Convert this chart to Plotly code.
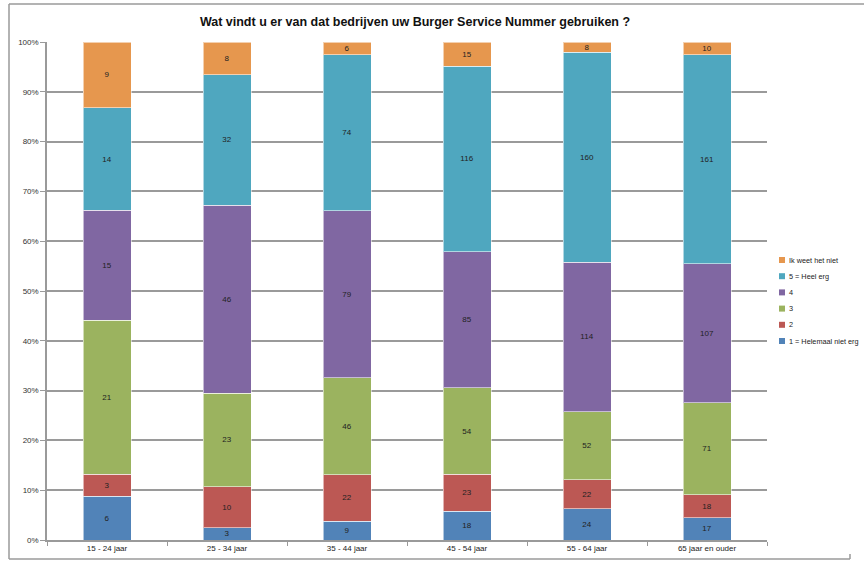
import plotly.graph_objects as go

categories = ["15 - 24 jaar", "25 - 34 jaar", "35 - 44 jaar", "45 - 54 jaar", "55 - 64 jaar", "65 jaar en ouder"]
series_names = ["1 = Helemaal niet erg", "2", "3", "4", "5 = Heel erg", "Ik weet het niet"]
s1 = [6, 3, 9, 18, 24, 17]
s2 = [3, 10, 22, 23, 22, 18]
s3 = [21, 23, 46, 54, 52, 71]
s4 = [15, 46, 79, 85, 114, 107]
s5 = [14, 32, 74, 116, 160, 161]
s6 = [9, 8, 6, 15, 8, 10]
colors = ["#5183B8", "#BC5854", "#9BB35F", "#8067A2", "#4FA7BF", "#E6974E"]
y_ticks = [0, 10, 20, 30, 40, 50, 60, 70, 80, 90, 100]
y_labels = [f"{t}%" for t in y_ticks]
title = "Wat vindt u er van dat bedrijven uw Burger Service Nummer gebruiken ?"

FONT = "Liberation Sans, sans-serif"

fig = go.Figure()
for name, vals, col in zip(series_names, [s1, s2, s3, s4, s5, s6], colors):
    fig.add_trace(go.Bar(
        x=categories, y=vals, name=name, showlegend=False,
        marker=dict(color=col, line=dict(color="rgba(255,255,255,0.55)", width=1)),
        text=[str(v) for v in vals], textposition="inside", insidetextanchor="middle",
        textangle=0, textfont=dict(size=8, color="#222222", family=FONT),
    ))

# plot-area geometry: l=47, r=767, t=42, b=540
W, H = 864, 563
L, R, T, B = 47, 767, 42, 540
pw, ph = R - L, B - T

def px(x):
    return (x - L) / pw

def py(y):
    return (B - y) / ph

border = dict(color="#9a9a9a", width=1.5)
shapes = [
    dict(type="line", xref="paper", yref="paper", x0=px(9), x1=px(9), y0=py(559), y1=py(4), line=border),
    dict(type="line", xref="paper", yref="paper", x0=px(9), x1=px(864), y0=py(4), y1=py(4), line=border),
    dict(type="line", xref="paper", yref="paper", x0=px(9), x1=px(850), y0=py(559), y1=py(559), line=border),
    dict(type="line", xref="paper", yref="paper", x0=px(850), x1=px(850), y0=py(559), y1=py(554), line=border),
]
annotations = []
# manual legend (top entry = last series)
for i, (name, col) in enumerate(reversed(list(zip(series_names, colors)))):
    yc = 260 + i * 16.2
    shapes.append(dict(type="rect", xref="paper", yref="paper",
                       x0=px(779), x1=px(785), y0=py(yc + 3), y1=py(yc - 3),
                       fillcolor=col, line=dict(width=0)))
    annotations.append(dict(text=name, xref="paper", yref="paper", x=px(787), y=py(yc),
                            xanchor="left", yanchor="middle", showarrow=False,
                            font=dict(size=7.3, color="#222222", family=FONT)))

fig.update_layout(
    width=W, height=H,
    barmode="stack", barnorm="percent", bargap=0.6,
    margin=dict(l=L, r=W - R, t=T, b=H - B, pad=0, autoexpand=False),
    paper_bgcolor="white", plot_bgcolor="white",
    title=dict(text="<b>" + title + "</b>", x=px(415), xref="paper", xanchor="center",
               y=1 - 22 / H, yanchor="middle",
               font=dict(family=FONT, size=12.5, color="#111111")),
    font=dict(family=FONT, size=8, color="#333333"),
    uniformtext=dict(minsize=8, mode="show"),
    showlegend=False,
    xaxis=dict(type="category", showgrid=False, showline=True, linecolor="#9a9a9a", linewidth=1.5,
               ticks="outside", tickson="boundaries", ticklen=4, tickcolor="#9a9a9a",
               tickfont=dict(size=8, color="#222222", family=FONT), range=[-0.5, 5.5]),
    yaxis=dict(range=[0, 100], tickvals=y_ticks, ticktext=y_labels, showgrid=True,
               gridcolor="#9a9a9a", gridwidth=1.5, showline=True, linecolor="#9a9a9a", linewidth=1.5,
               ticks="outside", ticklen=5, tickcolor="#9a9a9a",
               tickfont=dict(size=8, color="#333333", family=FONT), zeroline=False),
    shapes=shapes,
    annotations=annotations,
)

fig.write_html("out.html", config={"displayModeBar": False},
               post_script="document.body.style.margin='0';document.body.style.overflow='hidden';")
